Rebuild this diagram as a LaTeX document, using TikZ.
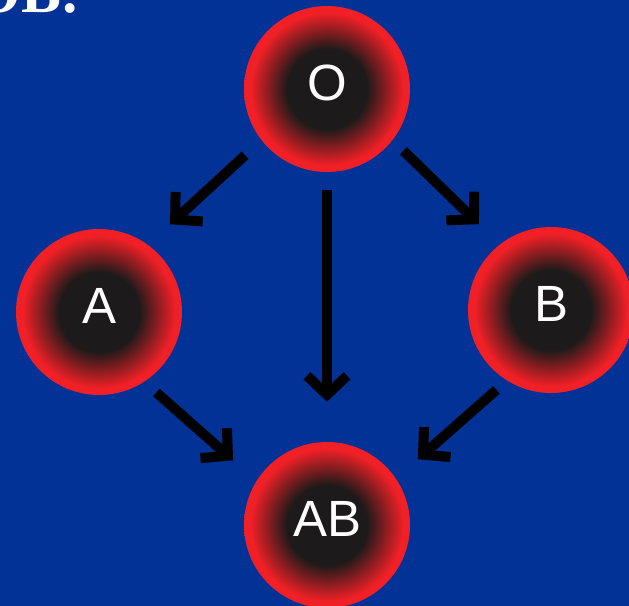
\documentclass[tikz,border=0pt]{standalone}
\usepackage{fontspec}
\newfontfamily\cellfont{Liberation Sans}
\newfontfamily\titlefont{Liberation Serif}
\usetikzlibrary{arrows.meta, positioning}
\definecolor{slidebg}{RGB}{2,50,150}
\definecolor{cellcore}{RGB}{28,26,26}
\definecolor{cellred}{RGB}{240,32,38}
\pgfdeclareradialshading{cellshade}{\pgfpoint{0bp}{0bp}}{color(0bp)=(cellcore); color(12bp)=(cellcore); color(23bp)=(cellred); color(50bp)=(cellred)}
\tikzstyle{cell} = [circle, minimum size=3.32cm, inner sep=0pt, shading=cellshade, text=white, font=\cellfont\fontsize{29}{29}\selectfont, text height=0.74cm, text depth=0.28cm]
\tikzstyle{arrow} = [line width=0.2cm, -{Straight Barb[length=0.38cm, width=0.8cm]}]
\begin{document}
\begin{tikzpicture}[node distance=4.5cm, on grid]
        \useasboundingbox (0,0) rectangle (12.58,-12.12);
        \clip (0,0) rectangle (12.58,-12.12);
        \fill [slidebg] (0,0) rectangle (12.58,-12.12);
        \node (title) [anchor=base east, text=white, font=\titlefont\bfseries\fontsize{34}{34}\selectfont] at (1.74,-0.24) {OB:};
        \node (O) [cell] at (6.54,-1.78) {O};
        \node (A) [cell, below left=4.46cm and 4.56cm of O] {A};
        \node (B) [cell, below right=4.42cm and 4.48cm of O] {B};
        \node (AB) [cell, below=8.72cm of O] {AB};
        \draw [arrow, shorten <=0.44cm, shorten >=0.6cm] (O.218) -- (A.54);
        \draw [arrow, shorten <=0.3cm, shorten >=0.58cm] (O.322) -- (B.128);
        \draw [arrow, shorten <=0.36cm, shorten >=0.8cm] (O.south) -- (AB.north);
        \draw [arrow, shorten <=0.32cm, shorten >=0.62cm] (A.303) -- (AB.148);
        \draw [arrow, shorten <=0.28cm, shorten >=0.58cm] (B.238) -- (AB.34);
    \end{tikzpicture}
\end{document}
